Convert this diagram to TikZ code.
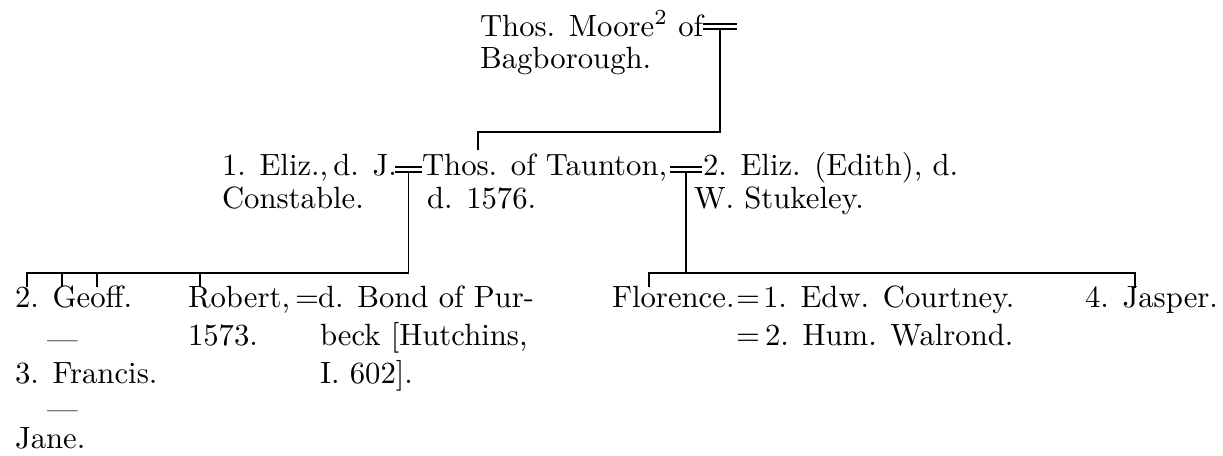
\documentclass[tikz,border=0pt]{standalone}
\tikzset{
  lbl/.style={anchor=base west, inner sep=0pt, outer sep=0pt, font=\fontsize{10.6}{12}\selectfont},
  line/.style={line width=0.65pt, line cap=butt},
  marr/.style={rectangle, inner sep=0pt, outer sep=0pt, minimum height=1.75pt, draw=none},
}
\begin{document}
\begin{tikzpicture}[x=0.345pt,y=-0.345pt]
\useasboundingbox (0,0) rectangle (1223,455);
% ---------- level 1
\node[lbl] (moorea) at (480,36) {Thos. Moore\textsuperscript{2} of};
\node[lbl] (mooreb) at (480,68) {Bagborough.};
\node[marr, minimum width=11.7pt] (m1) at (720,26.5) {};
\draw[line] (m1.north west) -- (m1.north east) (m1.south west) -- (m1.south east);
\coordinate (k1) at (478,132);
\coordinate (k1e) at (478,150);
\draw[line] (m1.south) |- (k1) -- (k1e);
% ---------- level 2
\node[lbl] (eliza) at (222,175) {1. Eliz.,\,d. J.};
\node[lbl] (elizb) at (222,208) {Constable.};
\node[marr, minimum width=9.3pt] (m2) at (408.5,169.5) {};
\draw[line] (m2.north west) -- (m2.north east) (m2.south west) -- (m2.south east);
\node[lbl] (thosa) at (422,175) {Thos. of Taunton,};
\node[lbl] (thosb) at (427,208) {d. 1576.};
\node[marr, minimum width=11pt] (m3) at (686,169.5) {};
\draw[line] (m3.north west) -- (m3.north east) (m3.south west) -- (m3.south east);
\node[lbl] (editha) at (703,175) {2. Eliz. (Edith), d.};
\node[lbl] (edithb) at (694,208) {W. Stukeley.};
% ---------- level 3, first marriage
\coordinate (l0) at (27,273);
\coordinate (l0e) at (27,287);
\coordinate (l1) at (62,273);
\coordinate (l1e) at (62,287);
\coordinate (l2) at (97,273);
\coordinate (l2e) at (97,287);
\coordinate (l3) at (200,273);
\coordinate (l3e) at (200,287);
\draw[line] (m2.south) |- (l0) -- (l0e);
\draw[line] (l1) -- (l1e);
\draw[line] (l2) -- (l2e);
\draw[line] (l3) -- (l3e);
\node[lbl] (geoff) at (15,307) {2. Geoff.};
\node[lbl] (dasha) at (47,349) {---};
\node[lbl] (francis) at (15,383) {3. Francis.};
\node[lbl] (dashb) at (47,419) {---};
\node[lbl] (jane) at (15,448) {Jane.};
\node[lbl] (roberta) at (188,307) {Robert,};
\node[lbl] (robertb) at (188,345) {1573.};
\node[lbl] (eqr) at (295,307) {=};
\node[lbl] (bonda) at (318,307) {d. Bond of Pur-};
\node[lbl] (bondb) at (320,345) {beck [Hutchins,};
\node[lbl] (bondc) at (320,383) {I. 602].};
% ---------- level 3, second marriage
\coordinate (r0) at (649,273);
\coordinate (r0e) at (649,287);
\coordinate (r1) at (1135,273);
\coordinate (r1e) at (1135,288);
\draw[line] (m3.south) -- (m3.south |- r0);
\draw[line] (r0e) -- (r0) -- (r1) -- (r1e);
\node[lbl] (flor) at (612,307) {Florence.};
\node[lbl] (eqf1) at (736,307) {=};
\node[lbl] (edw) at (763,307) {1. Edw. Courtney.};
\node[lbl] (eqf2) at (736,345) {=};
\node[lbl] (hum) at (765,345) {2. Hum. Walrond.};
\node[lbl] (jasper) at (1085,307) {4. Jasper.};
\end{tikzpicture}
\end{document}
